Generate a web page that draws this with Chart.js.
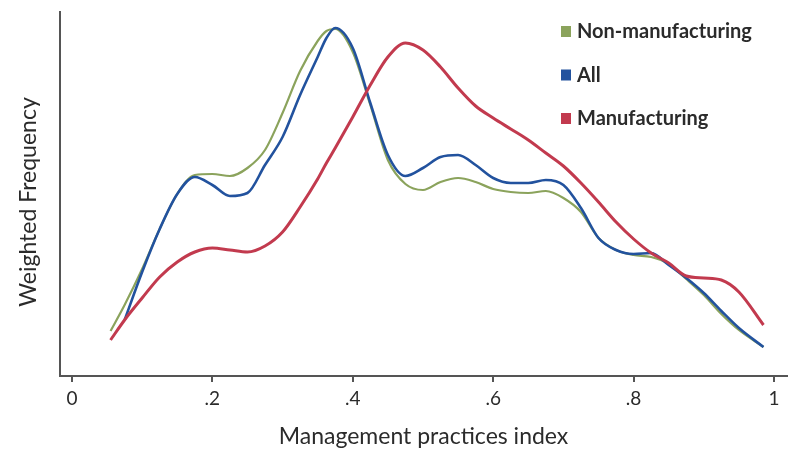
<!DOCTYPE html>
<html>
<head>
<meta charset="utf-8">
<script src="https://cdn.jsdelivr.net/npm/chart.js@4/dist/chart.umd.min.js"></script>
<style>
  html, body { margin: 0; padding: 0; background: #fff; }
  #wrap { width: 793px; height: 450px; position: relative; }
</style>
</head>
<body>
<div id="wrap"><canvas id="myChart" width="793" height="450"></canvas></div>
<script>
// management practices index (x) and weighted frequency of each group
const indice = [0.055, 0.075, 0.1, 0.125, 0.15, 0.175, 0.2, 0.225, 0.25, 0.275, 0.3, 0.325, 0.35, 0.3625, 0.375,
    0.4, 0.425, 0.45, 0.475, 0.5, 0.525, 0.55, 0.575, 0.6, 0.625, 0.65, 0.675, 0.7, 0.725, 0.75, 0.775,
    0.8, 0.825, 0.85, 0.875, 0.9, 0.925, 0.95, 0.985]

const noManufactura = [0.45, 0.71, 1.07, 1.47, 1.82, 2.01, 2.02, 2.00, 2.08, 2.26, 2.63, 3.05, 3.35, 3.45, 3.47,
    3.24, 2.71, 2.16, 1.92, 1.86, 1.94, 1.98, 1.94, 1.87, 1.84, 1.83, 1.85, 1.78, 1.64, 1.38, 1.26,
    1.21, 1.19, 1.12, 0.97, 0.81, 0.62, 0.46, 0.29]

const todas = [null, 0.56, 1.04, 1.47, 1.82, 1.99, 1.91, 1.80, 1.83, 2.11, 2.39, 2.81, 3.19, 3.38, 3.48,
    3.28, 2.73, 2.21, 2.00, 2.08, 2.19, 2.21, 2.11, 1.98, 1.93, 1.93, 1.96, 1.91, 1.68, 1.38, 1.26,
    1.22, 1.23, 1.11, 0.98, 0.83, 0.65, 0.48, 0.29]

const manufactura = [0.36, 0.56, 0.78, 0.99, 1.14, 1.24, 1.28, 1.26, 1.24, 1.30, 1.44, 1.69, 1.97, 2.13, 2.28,
    2.59, 2.91, 3.19, 3.33, 3.26, 3.09, 2.88, 2.70, 2.58, 2.47, 2.36, 2.23, 2.10, 1.93, 1.74, 1.54,
    1.37, 1.23, 1.13, 1.00, 0.98, 0.96, 0.84, 0.51]

const ticksX = [0, 0.2, 0.4, 0.6, 0.8, 1]
const etiquetasX = ['0', '.2', '.4', '.6', '.8', '1']

const colorEje = '#555555'
const colorTexto = '#2b2b2b'

function puntos(serie) {
    return serie.map((valor, i) => ({ x: indice[i], y: valor }))
}

// legend in the upper right corner and the y title, drawn by hand
const extras = {
    id: 'extras',
    afterDraw(chart) {
        const ctx = chart.ctx
        ctx.save()
        ctx.font = 'bold 20px Lato'
        ctx.textBaseline = 'middle'
        chart.data.datasets.forEach((ds, i) => {
            const y = 31 + i * 43.5
            ctx.fillStyle = ds.borderColor
            ctx.fillRect(561, y - 5, 10, 11)
            ctx.fillStyle = colorTexto
            ctx.fillText(ds.label, 577, y + 1)
        })
        ctx.translate(29, 202)
        ctx.rotate(-Math.PI / 2)
        ctx.font = '23px Lato'
        ctx.textAlign = 'center'
        ctx.fillText('Weighted Frequency', 0, 0)
        ctx.restore()
    }
}

function chartConfig() {
    return {
        type: 'line',
        data: {
            datasets: [
                {
                    label: 'Non-manufacturing',
                    data: puntos(noManufactura),
                    borderColor: '#8ba35c',
                    borderWidth: 2.2,
                    order: 3
                },
                {
                    label: 'All',
                    data: puntos(todas),
                    borderColor: '#22529e',
                    borderWidth: 2.6,
                    order: 2
                },
                {
                    label: 'Manufacturing',
                    data: puntos(manufactura),
                    borderColor: '#c23a4e',
                    borderWidth: 3,
                    order: 1
                }
            ]
        },
        options: {
            responsive: false,
            animation: false,
            elements: { point: { radius: 0 }, line: { cubicInterpolationMode: 'monotone' } },
            layout: { padding: { top: 12, right: 6, left: 0, bottom: 0 } },
            plugins: {
                legend: { display: false },
                tooltip: { enabled: false }
            },
            scales: {
                x: {
                    type: 'linear',
                    min: -0.017,
                    max: 1.0185,
                    afterBuildTicks: (scale) => {
                        scale.ticks = ticksX.map(v => ({ value: v }))
                    },
                    afterFit: (scale) => { scale.height = 74 },
                    border: { display: true, color: colorEje, width: 2 },
                    grid: { drawOnChartArea: false, drawTicks: true, tickLength: 6, color: colorEje, lineWidth: 2 },
                    ticks: {
                        color: colorTexto,
                        font: { family: 'Lato', size: 19 },
                        padding: 5,
                        maxRotation: 0,
                        callback: (valor) => {
                            const i = ticksX.findIndex(t => Math.abs(t - valor) < 1e-6)
                            return i >= 0 ? etiquetasX[i] : ''
                        }
                    },
                    title: {
                        display: true,
                        text: 'Management practices index',
                        color: colorTexto,
                        font: { family: 'Lato', size: 23 },
                        padding: { top: 0, bottom: 0 }
                    }
                },
                y: {
                    min: 0,
                    max: 3.64,
                    afterFit: (scale) => { scale.width = 60 },
                    border: { display: true, color: colorEje, width: 2 },
                    grid: { display: false },
                    ticks: { display: false }
                }
            }
        },
        plugins: [extras]
    }
}

const chartDOM = document.getElementById('myChart')
new Chart(chartDOM, chartConfig())
</script>
</body>
</html>
